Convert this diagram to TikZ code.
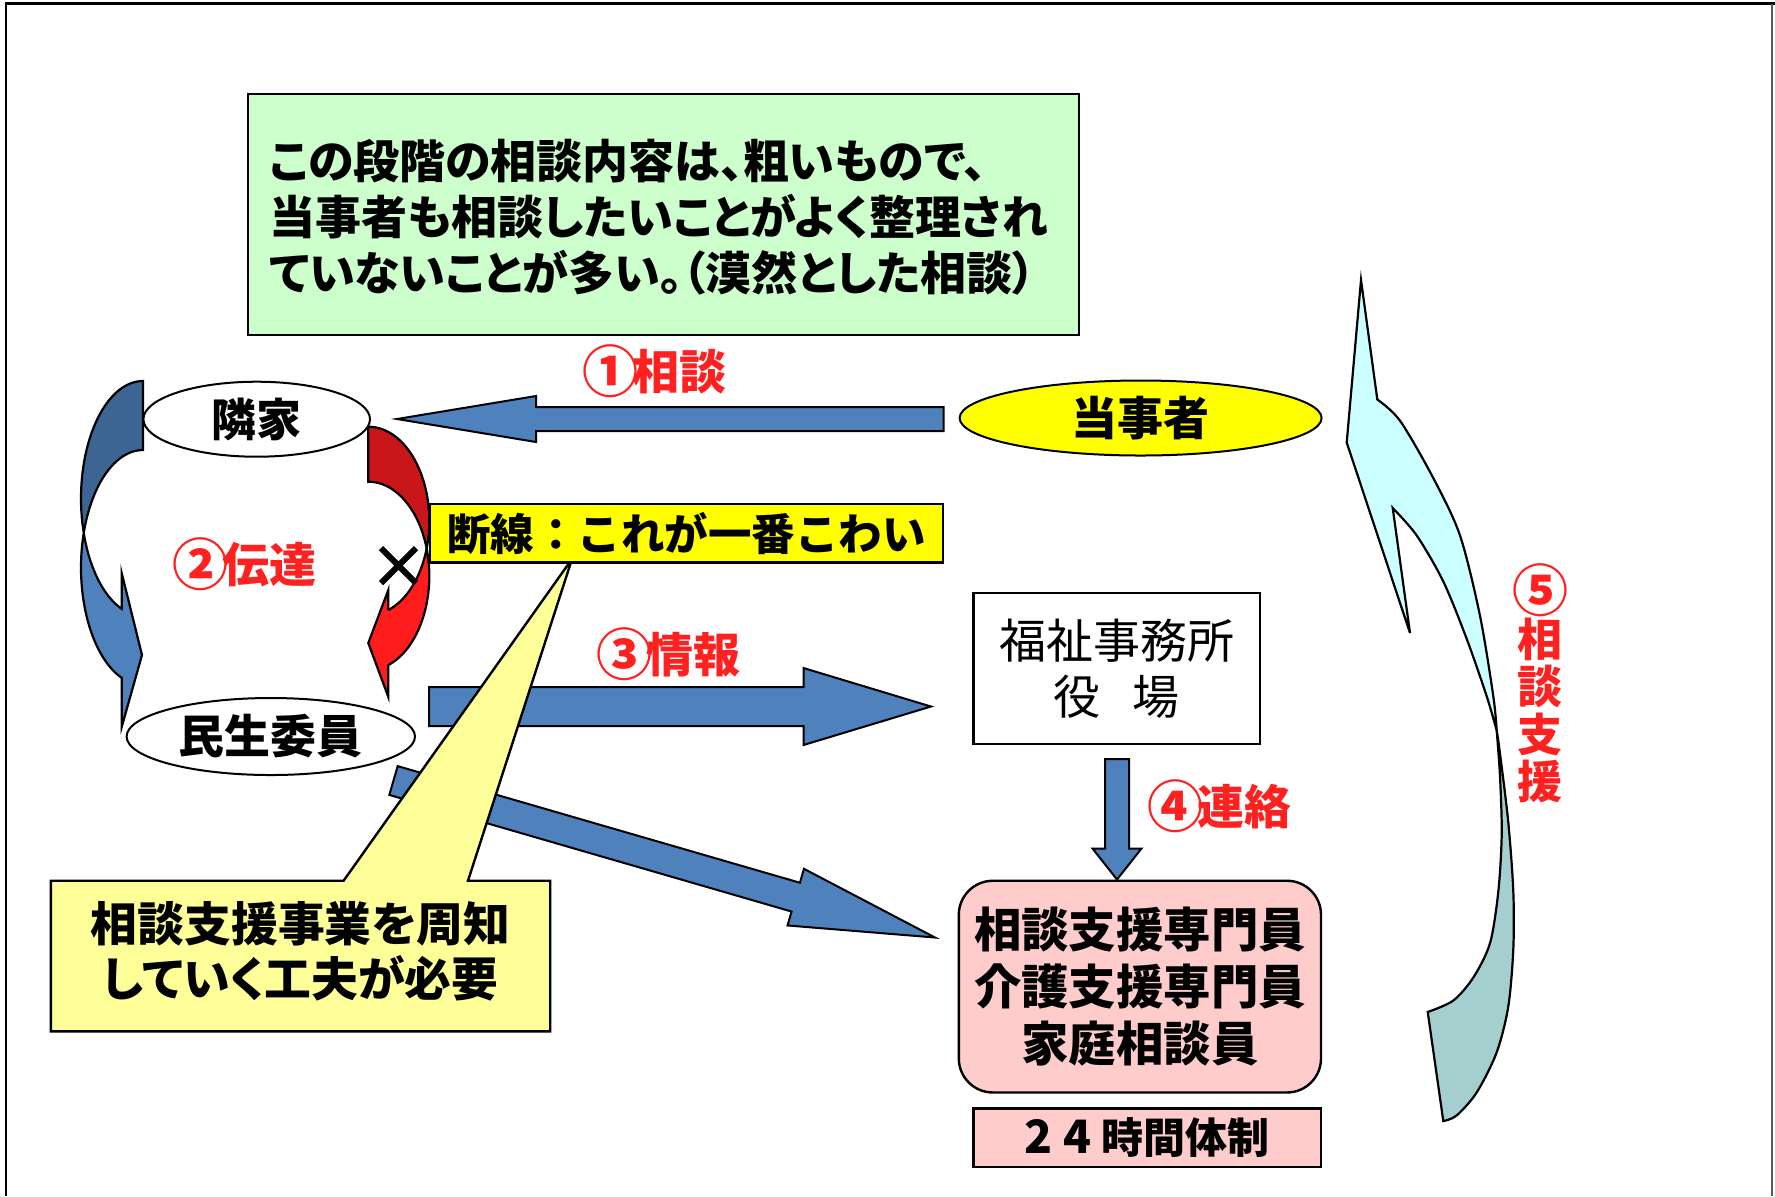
\documentclass[tikz,border=0pt]{standalone}
\usepackage{fontspec}
\usetikzlibrary{calc,shapes.geometric}
\newfontfamily\jp{Noto Sans CJK JP}
\newfontfamily\jpp{Noto Sans CJK JP}[RawFeature=+palt]
\newcommand{\fb}[2]{\jp\bfseries\fontsize{#1}{#2}\selectfont}
\newcommand{\fbp}[2]{\jpp\bfseries\fontsize{#1}{#2}\selectfont}
\newcommand{\fr}[2]{\jp\fontsize{#1}{#2}\selectfont}
\newcommand{\cn}[1]{\makebox[22pt]{\raisebox{-1.6pt}{\fontsize{28}{28}\selectfont #1}}}
\definecolor{gfill}{HTML}{CCFFCC}
\definecolor{yfill}{HTML}{FFFF00}
\definecolor{lyfill}{HTML}{FFFF99}
\definecolor{pfill}{HTML}{FFCCCC}
\definecolor{ablue}{HTML}{4F81BD}
\definecolor{dblue}{HTML}{3D6594}
\definecolor{dred}{HTML}{C8161A}
\definecolor{lred}{HTML}{FF1C1C}
\definecolor{lcyan}{HTML}{CCFFFF}
\definecolor{tealb}{HTML}{A5CECE}
\definecolor{lbl}{HTML}{FF2020}
\newcommand{\barr}[5]{%
  \coordinate (#1-#2-h) at ($(#2)!#5!(#1)$);
  \draw[blockar] ($(#1)!#3!90:(#2)$) -- ($(#1-#2-h)!#3!90:(#2)$) -- ($(#1-#2-h)!#4!90:(#2)$) -- (#2) -- ($(#1-#2-h)!#4!-90:(#2)$) -- ($(#1-#2-h)!#3!-90:(#2)$) -- ($(#1)!#3!-90:(#2)$) -- cycle;}
\begin{document}
\begin{tikzpicture}[x=0.5pt,y=-0.5pt,
  bx/.style={draw=black,line width=1.2pt,inner sep=0pt},
  ell/.style={draw=black,line width=1pt,inner sep=0pt,ellipse},
  blockar/.style={fill=ablue,draw=black,line width=1pt,line join=miter},
  curv/.style={draw=black,line width=1.1pt,line join=miter},
  lab/.style={text=lbl,inner sep=0pt,font={\fb{23.5}{28}}}]
\useasboundingbox (0,0) rectangle (1775,1196);
\fill[white] (0,0) rectangle (1775,1196);
% slide frame
\draw[line width=1.4pt] (6,1196) -- (6,3.5) -- (1775,3.5);
\draw[black!65,line width=1pt] (1772,3.5) -- (1772,1196);

% green note
\node[bx,fill=gfill,minimum width=415.5pt,minimum height=120.5pt] (note) at (663.5,214.5) {};
\node[anchor=west,inner sep=0pt,align=left,font={\fbp{23}{28}}] (notetext) at (269,217.5)
  {この段階の相談内容は、粗いもので、\\当事者も相談したいことがよく整理され\\ていないことが多い。（漠然とした相談）};

% blue curved arrow (left)
\path[curv,fill=dblue] plot[domain=270:162.93,samples=40,variable=\t] ({143+62*cos(\t)},{498.5+117.5*sin(\t)})
  -- plot[domain=197.07:270,samples=40,variable=\t] ({143+62*cos(\t)},{567.5+117.5*sin(\t)}) -- cycle;
\path[curv,fill=ablue] plot[domain=197.07:110.1,samples=40,variable=\t] ({143+62*cos(\t)},{567.5+117.5*sin(\t)})
  -- (121.7,727) -- (142,655) -- (121.7,573) -- (121.7,608.8)
  -- plot[domain=110.1:162.93,samples=40,variable=\t] ({143+62*cos(\t)},{498.5+117.5*sin(\t)}) -- cycle;

% red curved arrow (right)
\path[curv,fill=dred] plot[domain=-90:16.95,samples=40,variable=\t] ({368.3+61*cos(\t)},{521+94.3*sin(\t)})
  -- plot[domain=-16.95:-90,samples=40,variable=\t] ({368.3+61*cos(\t)},{576+94.3*sin(\t)}) -- cycle;
\path[curv,fill=lred] plot[domain=-16.95:70.86,samples=40,variable=\t] ({368.3+61*cos(\t)},{576+94.3*sin(\t)})
  -- (388.3,697) -- (368.3,643) -- (388.3,590) -- (388.3,610.1)
  -- plot[domain=70.86:16.95,samples=40,variable=\t] ({368.3+61*cos(\t)},{521+94.3*sin(\t)}) -- cycle;

% big curved arrow (5)
\path[curv,fill=tealb] plot[smooth] coordinates {(1496.7,730.7) (1500,753.7) (1508.3,822.6) (1513.3,891.5) (1513.3,948.9) (1508.3,1006.3) (1496.7,1052.3) (1476.7,1092.4) (1456.7,1115.4) (1443.3,1121.1)}
  -- (1427.7,1012)
  -- plot[smooth] coordinates {(1427.7,1012) (1453.3,1000.5) (1473.3,977.5) (1490,943.1) (1498.3,891.5) (1501.7,834) (1500,776.6) (1496.7,730.7)} -- cycle;
\path[curv,fill=lcyan] plot[smooth] coordinates {(1496.7,730.7) (1493.3,696.3) (1480,615.9) (1460,535.5) (1433.3,478.1) (1400,420.7) (1377.3,399.5)}
  -- (1361,280) -- (1346.7,442.5) -- (1410,633) -- (1392.7,508)
  -- plot[smooth] coordinates {(1392.7,508) (1416.7,535.5) (1443.3,581.5) (1466.7,638.9) (1486.7,696.3) (1496.7,730.7)} -- cycle;

% ellipses
\node[ell,fill=white,minimum width=113.3pt,minimum height=37.5pt,font={\fb{22.5}{26}}] (rinka) at (256.7,419.2) {隣家};
\node[ell,fill=white,minimum width=144.2pt,minimum height=38.5pt,font={\fb{23}{26}}] (minsei) at (270.8,736.5) {民生委員};
\node[ell,fill=yfill,minimum width=181pt,minimum height=37.5pt,font={\fb{23}{26}}] (tojisha) at (1140.6,418) {当事者};

% cross mark
\draw[line width=3pt] (381,548) -- (416,583) (381,583) -- (416,548);

% boxes
\node[bx,fill=white,minimum width=143.2pt,minimum height=75.25pt,align=center,font={\fr{23.5}{28.25}}] (office) at (1116.7,668.5) {福祉事務所\\役\hspace{16pt}場};
\node[bx,fill=pfill,rounded corners=17pt,minimum width=181.1pt,minimum height=105.85pt,align=center,font={\fb{23.7}{28.5}}] (staff) at (1139.9,986.6) {相談支援専門員\\介護支援専門員\\家庭相談員};
\node[bx,fill=pfill,minimum width=173.75pt,minimum height=29.4pt,font={\fb{21}{25}}] (h24) at (1147.3,1137.7) {{\fontsize{23}{25}\selectfont 2\kern5.5pt 4}\kern5pt 時間体制};

% block arrows
\coordinate (a1t) at (943.5,419); \coordinate (a1h) at (397,419);
\barr{a1t}{a1h}{6pt}{11.5pt}{69.5pt}
\coordinate (a3t) at (429,706.5); \coordinate (a3h) at (931,706.5);
\barr{a3t}{a3h}{9.75pt}{19.25pt}{63.75pt}
\coordinate (a5t) at (393.5,780.5); \coordinate (a5h) at (935,937.5);
\barr{a5t}{a5h}{7.5pt}{14.75pt}{72.5pt}
\coordinate (a4t) at (1117,759); \coordinate (a4h) at (1117,879.5);
\barr{a4t}{a4h}{6pt}{12.25pt}{15.5pt}

% callout
\draw[fill=lyfill,line width=1.2pt,line join=miter] (50.9,880.7) -- (343.6,880.7) -- (572,559) -- (468,880.7) -- (550.2,880.7) -- (550.2,1031.3) -- (50.9,1031.3) -- cycle;
\node[inner sep=0pt,align=center,font={\fbp{23.4}{27.5}}] (calltext) at (300.5,951) {相談支援事業を周知\\していく工夫が必要};

% danger box
\node[bx,fill=yfill,minimum width=256.4pt,minimum height=29.45pt,font={\fb{21.75}{26}}] (danger) at (686.6,533.2) {断線：これが一番こわい};

% labels
\node[lab] (l1) at (657,371) {\cn{①}相談};
\node[lab] (l2) at (247.5,564) {\cn{②}伝達};
\node[lab] (l3) at (671.5,654) {\cn{③}情報};
\node[lab] (l4) at (1222.5,806) {\cn{④}連絡};
\node[lab,align=center,font={\fb{22.5}{23.75}}] (l5) at (1540,683.5) {\cn{⑤}\\相\\談\\支\\援};
\end{tikzpicture}
\end{document}
